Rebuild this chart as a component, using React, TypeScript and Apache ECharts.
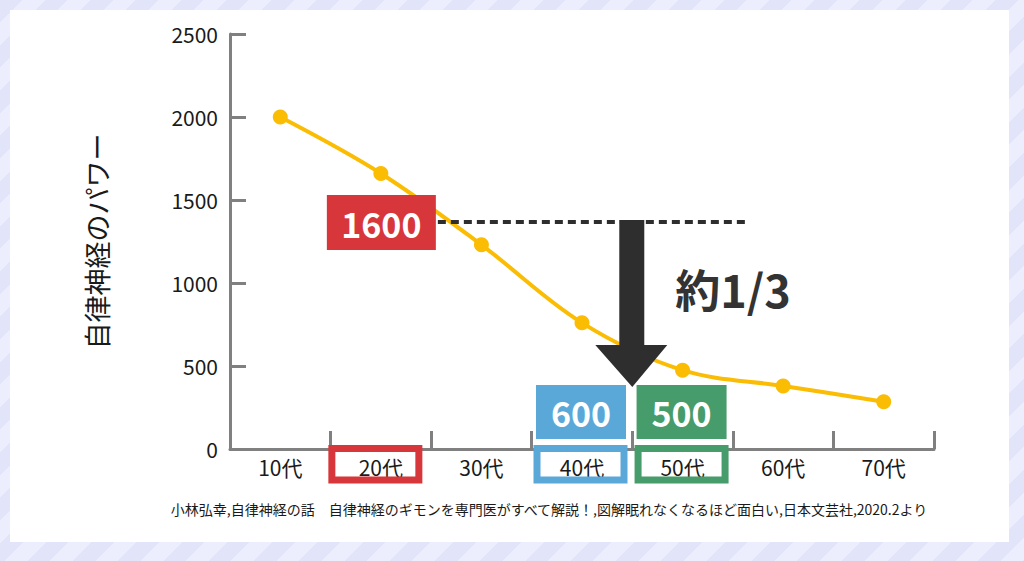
import React, { useEffect, useRef } from "react";
import * as echarts from "echarts";

const categories = ["10代", "20代", "30代", "40代", "50代", "60代", "70代"];
const values = [2000, 1660, 1230, 760, 475, 380, 285];
const yMin = 0;
const yMax = 2500;
const yInterval = 500;
const yAxisName = "自律神経のパワー";
const highlightIndex = [1, 3, 4];
const highlightLabels = ["1600", "600", "500"];
const highlightColors = ["#d7363a", "#5aa8d8", "#469c6a"];
const refLevel = 1367;
const ratioText = "約1/3";
const sourceText =
  "小林弘幸,自律神経の話　自律神経のギモンを専門医がすべて解説！,図解眠れなくなるほど面白い,日本文芸社,2020.2より";

const FONT = '"Noto Sans CJK JP", "Noto Sans", sans-serif';
const AXIS_GRAY = "#808080";
const LINE_COLOR = "#fbbc04";
const DARK = "#2e2e2e";
const frameShift = [-5.5, -1.5, -1];

export default function App() {
  const ref = useRef<HTMLDivElement>(null);

  useEffect(() => {
    if (!ref.current) return;
    const chart = echarts.init(ref.current, null, { renderer: "svg" });
    chart.setOption({
      animation: false,
      backgroundColor: "transparent",
      textStyle: { fontFamily: FONT },
      grid: { left: 230, right: 90, top: 34, bottom: 112 },
      xAxis: {
        type: "category",
        data: categories,
        boundaryGap: true,
        axisLine: { lineStyle: { color: AXIS_GRAY, width: 3 } },
        axisTick: { show: true, inside: true, length: 18, lineStyle: { color: AXIS_GRAY, width: 3 } },
        axisLabel: { color: "#1a1a1a", fontSize: 21, margin: 7, fontFamily: FONT },
        splitLine: { show: false },
      },
      yAxis: {
        type: "value",
        min: yMin,
        max: yMax,
        interval: yInterval,
        name: yAxisName,
        nameLocation: "middle",
        nameRotate: 90,
        nameGap: 120,
        nameTextStyle: { color: "#1a1a1a", fontSize: 27, fontFamily: FONT },
        axisLine: { show: true, lineStyle: { color: AXIS_GRAY, width: 3 } },
        axisTick: { show: true, inside: true, length: 16, lineStyle: { color: AXIS_GRAY, width: 3 } },
        axisLabel: {
          color: "#1a1a1a",
          fontSize: 21,
          margin: 12,
          fontFamily: FONT,
          formatter: (v: number) => String(v),
        },
        splitLine: { show: false },
      },
      series: [
        {
          type: "line",
          data: values,
          smooth: 0.35,
          symbol: "circle",
          symbolSize: 15,
          lineStyle: { color: LINE_COLOR, width: 4 },
          itemStyle: { color: LINE_COLOR },
          z: 2,
        },
      ],
    });

    const P = (i: number, v: number) =>
      chart.convertToPixel({ xAxisIndex: 0, yAxisIndex: 0 }, [i, v]) as number[];
    const xs = categories.map((_, i) => P(i, 0)[0]);
    const axisY = P(0, 0)[1];
    const refY = P(0, refLevel)[1];
    const bw = xs[1] - xs[0];
    const ax = (xs[3] + xs[4]) / 2;

    const graphic: any[] = [];
    highlightIndex.forEach((ci, k) => {
      graphic.push({
        type: "rect",
        z: 100,
        shape: { x: xs[ci] + frameShift[k] - 43.5, y: axisY - 0.5, width: 87, height: 31.5 },
        style: { fill: "none", stroke: highlightColors[k], lineWidth: 7 },
      });
    });
    graphic.push({
      type: "line",
      z: 100,
      shape: { x1: xs[1] + 57, y1: refY, x2: xs[4] + 0.65 * bw, y2: refY },
      style: { stroke: DARK, lineWidth: 4, lineDash: [8, 5] },
    });
    graphic.push({
      type: "rect",
      z: 101,
      shape: { x: xs[1] - 54, y: refY - 27, width: 109, height: 55 },
      style: { fill: highlightColors[0] },
    });
    graphic.push({
      type: "text",
      z: 102,
      x: xs[1] + 0.5,
      y: refY + 1,
      style: {
        text: highlightLabels[0],
        fill: "#fff",
        font: `bold 34px ${FONT}`,
        align: "center",
        verticalAlign: "middle",
      },
    });
    [1, 2].forEach((k) => {
      const ci = highlightIndex[k];
      graphic.push({
        type: "rect",
        z: 101,
        shape: { x: xs[ci] - 46, y: axisY - 64, width: 90, height: 54 },
        style: { fill: highlightColors[k] },
      });
      graphic.push({
        type: "text",
        z: 102,
        x: xs[ci] - 1,
        y: axisY - 37,
        style: {
          text: highlightLabels[k],
          fill: "#fff",
          font: `bold 34px ${FONT}`,
          align: "center",
          verticalAlign: "middle",
        },
      });
    });
    const headBase = axisY - 104;
    const tip = axisY - 62;
    graphic.push({
      type: "polygon",
      z: 103,
      shape: {
        points: [
          [ax - 13, refY - 2],
          [ax + 12, refY - 2],
          [ax + 12, headBase],
          [ax + 35, headBase],
          [ax, tip],
          [ax - 37, headBase],
          [ax - 13, headBase],
        ],
      },
      style: { fill: DARK },
    });
    graphic.push({
      type: "text",
      z: 103,
      x: ax + 43,
      y: axisY - 161,
      style: {
        text: ratioText,
        fill: "#333",
        font: `bold 45px ${FONT}`,
        align: "left",
        verticalAlign: "middle",
      },
    });
    graphic.push({
      type: "text",
      z: 103,
      x: 549,
      y: 509,
      style: {
        text: sourceText,
        fill: "#1a1a1a",
        font: `14px ${FONT}`,
        align: "center",
        verticalAlign: "middle",
      },
    });
    chart.setOption({ graphic });

    return () => chart.dispose();
  }, []);

  return (
    <div
      style={{
        position: "absolute",
        left: 0,
        top: 0,
        width: 1024,
        height: 561,
        overflow: "hidden",
        background:
          "repeating-linear-gradient(135deg, #e2e5fa 0px, #e2e5fa 16px, #eceefd 16px, #eceefd 32px)",
      }}
    >
      <div
        style={{
          position: "absolute",
          left: 10,
          top: 10,
          width: 999,
          height: 532,
          background: "#ffffff",
        }}
      />
      <div ref={ref} style={{ position: "absolute", left: 0, top: 0, width: 1024, height: 561 }} />
    </div>
  );
}
